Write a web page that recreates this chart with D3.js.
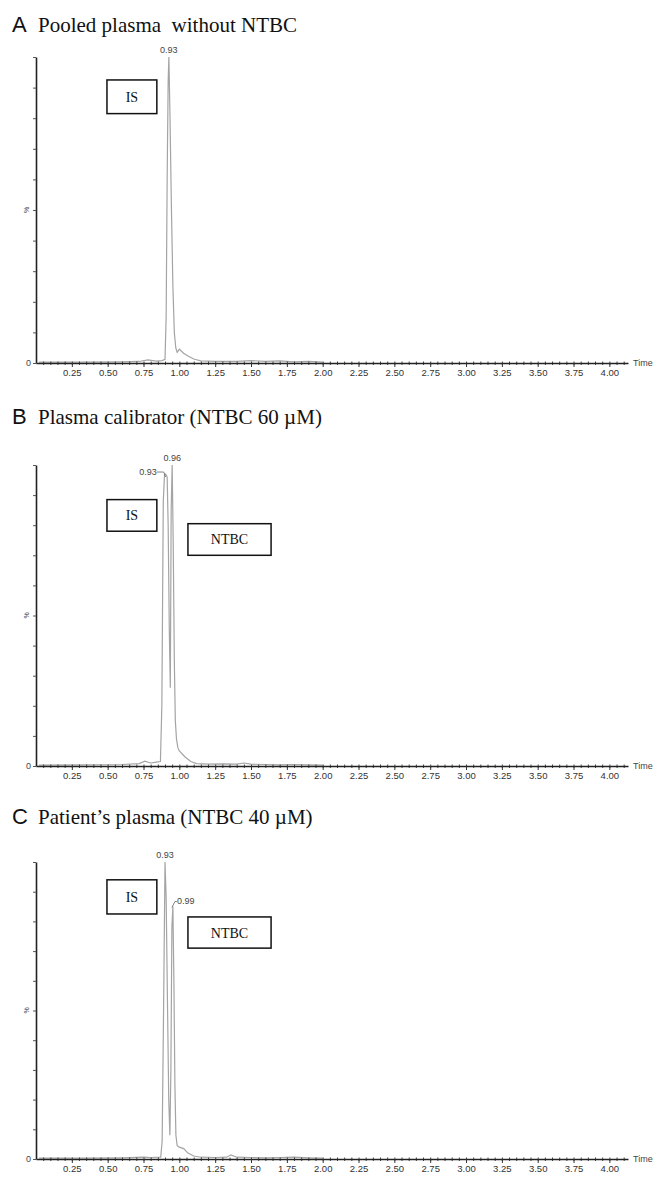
<!DOCTYPE html>
<html>
<head>
<meta charset="utf-8">
<script src="https://cdn.jsdelivr.net/npm/d3@7"></script>
<style>
  body { margin: 0; background: #fff; }
  svg { display: block; }
  .title { font-family: "Liberation Serif", "Times New Roman", serif; font-size: 21px; white-space: pre; fill: #111; }
  .letter { font-family: "Liberation Sans", Arial, sans-serif; font-size: 22px; fill: #111; }
  .tick text { font-family: "Liberation Sans", Arial, sans-serif; font-size: 9.5px; fill: #333; }
  .small { font-family: "Liberation Sans", Arial, sans-serif; font-size: 9px; fill: #444; }
  .boxlabel { font-family: "Liberation Serif", "Times New Roman", serif; font-size: 14px; fill: #111; }
</style>
</head>
<body>
<div id="chart"></div>
<script>
// panel titles
var panelLetters = ["A", "B", "C"];
var panelTitles = ["Pooled plasma  without NTBC", "Plasma calibrator (NTBC 60 \u00b5M)", "Patient\u2019s plasma (NTBC 40 \u00b5M)"];

// x axis ticks (min)
var xTickValues = [0.25, 0.50, 0.75, 1.00, 1.25, 1.50, 1.75, 2.00, 2.25, 2.50, 2.75, 3.00, 3.25, 3.50, 3.75, 4.00];
var xTickLabels = ["0.25", "0.50", "0.75", "1.00", "1.25", "1.50", "1.75", "2.00", "2.25", "2.50", "2.75", "3.00", "3.25", "3.50", "3.75", "4.00"];

// chromatogram A: pooled plasma without NTBC (time, % intensity)
var timesA = [0.02, 0.30, 0.60, 0.72, 0.78, 0.84, 0.88, 0.900, 0.908, 0.915, 0.922, 0.927, 0.935, 0.945, 0.955, 0.965, 0.975, 0.985, 1.00, 1.03, 1.06, 1.10, 1.15, 1.25, 1.40, 1.50, 1.60, 1.70, 1.80, 1.90, 2.00];
var intensityA = [0.3, 0.3, 0.4, 0.5, 1.0, 0.6, 0.8, 1.2, 15, 60, 92, 100, 80, 50, 25, 10, 5, 3.5, 4.5, 3.2, 2.3, 1.3, 0.7, 0.5, 0.5, 0.8, 0.5, 0.7, 0.4, 0.5, 0.3];

// chromatogram B: plasma calibrator (NTBC 60 uM)
var timesB = [0.02, 0.30, 0.60, 0.72, 0.76, 0.80, 0.84, 0.868, 0.878, 0.888, 0.897, 0.905, 0.915, 0.922, 0.930, 0.937, 0.943, 0.950, 0.957, 0.965, 0.972, 0.980, 0.990, 1.00, 1.04, 1.08, 1.12, 1.20, 1.30, 1.40, 1.45, 1.50, 1.60, 1.70, 1.80, 1.90, 2.00];
var intensityB = [0.3, 0.4, 0.5, 0.8, 1.6, 1.0, 1.3, 1.5, 20, 88, 97, 97, 96, 80, 45, 26, 85, 100, 75, 35, 15, 9, 6, 5, 3, 1.5, 0.8, 0.6, 0.7, 0.6, 1.0, 0.6, 0.5, 0.4, 0.5, 0.4, 0.3];

// chromatogram C: patient's plasma (NTBC 40 uM)
var timesC = [0.02, 0.30, 0.60, 0.75, 0.80, 0.87, 0.880, 0.890, 0.900, 0.908, 0.918, 0.926, 0.934, 0.941, 0.948, 0.955, 0.962, 0.969, 0.976, 0.985, 1.00, 1.03, 1.06, 1.10, 1.15, 1.25, 1.33, 1.36, 1.40, 1.50, 1.60, 1.70, 1.80, 1.90, 2.00];
var intensityC = [0.3, 0.3, 0.4, 0.6, 0.5, 0.6, 6, 50, 100, 88, 50, 20, 8, 30, 78, 85, 60, 25, 8, 4.5, 4, 3.5, 2, 1, 0.6, 0.5, 0.6, 1.4, 0.6, 0.5, 0.4, 0.5, 0.6, 0.4, 0.3];

// peak annotations
var peakTimesA = [0.927], peakTextA = ["0.93"];
var peakTimesB = [0.905, 0.950], peakTextB = ["0.93", "0.96"];
var peakTimesC = [0.900, 0.955], peakTextC = ["0.93", "0.99"];

// compound boxes
var boxLabelsA = ["IS"];
var boxLabelsB = ["IS", "NTBC"];
var boxLabelsC = ["IS", "NTBC"];

var W = 654, H = 1178;
var svg = d3.select("#chart").append("svg").attr("width", W).attr("height", H);

var x = d3.scaleLinear().domain([0, 4.13]).range([36, 628]);

// box positions: t0, t1, top %, bottom %
var panels = [
  {times: timesA, vals: intensityA, pk: peakTimesA, pkText: peakTextA, boxes: boxLabelsA,
   titleY: 32, top: 57, bottom: 363, labelStyle: ["top"],
   boxPos: [[0.495, 0.843, 92.5, 81.5]]},
  {times: timesB, vals: intensityB, pk: peakTimesB, pkText: peakTextB, boxes: boxLabelsB,
   titleY: 424, top: 465, bottom: 766, labelStyle: ["left", "top"],
   boxPos: [[0.495, 0.843, 88.5, 78], [1.06, 1.64, 80.5, 70]]},
  {times: timesC, vals: intensityC, pk: peakTimesC, pkText: peakTextC, boxes: boxLabelsC,
   titleY: 824, top: 862, bottom: 1159, labelStyle: ["top", "right"],
   boxPos: [[0.495, 0.843, 94, 82.5], [1.06, 1.64, 81.5, 71]]}
];

panels.forEach(function(p, pi) {
  var y = d3.scaleLinear().domain([0, 100]).range([p.bottom, p.top]);
  var g = svg.append("g");

  // title
  g.append("text").attr("class", "letter").attr("x", 12).attr("y", p.titleY).text(panelLetters[pi]);
  g.append("text").attr("class", "title").attr("x", 38).attr("y", p.titleY).text(panelTitles[pi]);

  // trace
  var line = d3.line()
    .x(function(d) { return x(d[0]); })
    .y(function(d) { return y(d[1]); });
  g.append("path")
    .datum(d3.zip(p.times, p.vals))
    .attr("d", line)
    .attr("fill", "none")
    .attr("stroke", "#a4a4a4")
    .attr("stroke-width", 1.2);

  // x axis minor ticks
  var minor = d3.range(0.05, 4.13, 0.05);
  g.append("g")
    .attr("transform", "translate(0," + (p.bottom - 1.5) + ")")
    .call(d3.axisBottom(x).tickValues(minor).tickSize(3.5).tickSizeOuter(0).tickFormat(""))
    .call(function(a) { a.select(".domain").remove(); a.selectAll("line").attr("stroke", "#444"); });

  // x axis major
  var xa = g.append("g")
    .attr("transform", "translate(0," + p.bottom + ")")
    .call(d3.axisBottom(x).tickValues(xTickValues).tickSize(4).tickSizeOuter(0)
      .tickFormat(function(d, i) { return xTickLabels[i]; }));
  xa.select(".domain").attr("stroke", "#222").attr("stroke-width", 1.6);
  xa.selectAll(".tick line").attr("stroke", "#333");
  xa.selectAll(".tick text").attr("y", 5).attr("dy", "0.8em");

  g.append("text").attr("class", "small").attr("x", 633).attr("y", p.bottom + 3).text("Time");

  // y axis
  var ya = g.append("g")
    .attr("transform", "translate(" + x(0) + ",0)")
    .call(d3.axisLeft(y).tickValues(d3.range(0, 101, 10)).tickSize(3).tickSizeOuter(0).tickFormat(""));
  ya.select(".domain").attr("stroke", "#222").attr("stroke-width", 1.6);
  ya.selectAll(".tick line").attr("stroke", "#555");

  g.append("text").attr("class", "small").attr("x", 31).attr("y", y(0) + 3)
    .attr("text-anchor", "end").text("0");
  g.append("text").attr("class", "small")
    .attr("transform", "translate(29," + y(50) + ") rotate(-90)")
    .attr("text-anchor", "middle").style("font-size", "7px").text("%");

  // peak labels
  p.pk.forEach(function(t, k) {
    var v = p.vals[p.times.indexOf(t)];
    var px = x(t), py = y(v);
    var style = p.labelStyle[k];
    if (style === "top") {
      g.append("text").attr("class", "small").attr("x", px).attr("y", py - 4)
        .attr("text-anchor", "middle").text(p.pkText[k]);
    } else if (style === "left") {
      g.append("path").attr("d", "M" + (px - 9) + "," + (py - 2) + "H" + (px - 2) + "L" + px + "," + (py + 3))
        .attr("fill", "none").attr("stroke", "#666").attr("stroke-width", 0.8);
      g.append("text").attr("class", "small").attr("x", px - 9).attr("y", py + 1)
        .attr("text-anchor", "end").text(p.pkText[k]);
    } else {
      g.append("path").attr("d", "M" + (px - 1) + "," + (py + 1) + "L" + (px + 2) + "," + (py - 5) + "H" + (px + 4))
        .attr("fill", "none").attr("stroke", "#666").attr("stroke-width", 0.8);
      g.append("text").attr("class", "small").attr("x", px + 4).attr("y", py - 3).text(p.pkText[k]);
    }
  });

  // compound boxes
  p.boxes.forEach(function(lbl, k) {
    var b = p.boxPos[k];
    g.append("rect")
      .attr("x", x(b[0])).attr("y", y(b[2]))
      .attr("width", x(b[1]) - x(b[0])).attr("height", y(b[3]) - y(b[2]))
      .attr("fill", "#fff").attr("stroke", "#111").attr("stroke-width", 1.5);
    g.append("text").attr("class", "boxlabel")
      .attr("x", (x(b[0]) + x(b[1])) / 2).attr("y", (y(b[2]) + y(b[3])) / 2 + 5)
      .attr("text-anchor", "middle").text(lbl);
  });
});
</script>
</body>
</html>
